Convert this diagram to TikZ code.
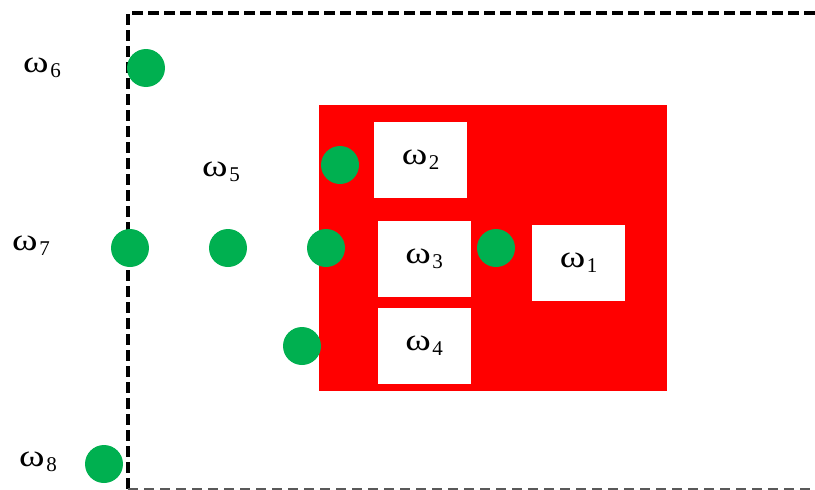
\documentclass[tikz,border=0pt]{standalone}
\usepackage{fontspec}
\usepackage{graphicx}
\setmainfont{Liberation Serif}
\usetikzlibrary{positioning}
\definecolor{dotgreen}{RGB}{0,176,80}
\newcommand{\wlab}[1]{\scalebox{1.25}[1]{ω}\hspace{1.5pt}\raisebox{-0.17em}{\fontsize{21}{22}\selectfont #1}}
\tikzset{
	dot/.style={circle,fill=dotgreen,inner sep=0pt,minimum size=38},
	wbox/.style={fill=white,inner sep=0pt,minimum width=93,minimum height=76,font=\fontsize{31}{33}\selectfont},
	lab/.style={inner sep=0pt,font=\fontsize{31}{33}\selectfont},
	frame/.style={line width=3.5,dash pattern=on 11 off 5}
}
\begin{document}
\begin{tikzpicture}[x=1pt,y=-1pt]
	\useasboundingbox (0,0) rectangle (815,490);
	
	%dashed frame
	\draw[frame] (815,13)--(128,13)--(128,489);
	\draw[line width=1.8,gray!70!black,dash pattern=on 10 off 6] (128,489)--(815,489);
	
	%red region
	\fill[red] (319,105) rectangle (667,391);
	\node[wbox] (b2) at (420.5,160) {\wlab{2}};
	\node[wbox] (b3) at (424,258.5) {\wlab{3}};
	\node[wbox] (b4) at (424,346) {\wlab{4}};
	\node[wbox] (b1) at (578.5,263) {\wlab{1}};
	
	%points
	\node[dot] (p6) at (146,68) {};
	\node[dot] (p2) at (340,165) {};
	\node[dot] (p7) at (130,248) {};
	\node[dot] (p5) at (228,248) {};
	\node[dot] (p3) at (326,248) {};
	\node[dot] (p1) at (496,248) {};
	\node[dot] (p4) at (302,346) {};
	\node[dot] (p8) at (104,464) {};
	
	%outer labels
	\node[lab] (l6) at (42,68) {\wlab{6}};
	\node[lab] (l5) at (221,172) {\wlab{5}};
	\node[lab] (l7) at (31,246) {\wlab{7}};
	\node[lab] (l8) at (38,462) {\wlab{8}};
\end{tikzpicture}
\end{document}
